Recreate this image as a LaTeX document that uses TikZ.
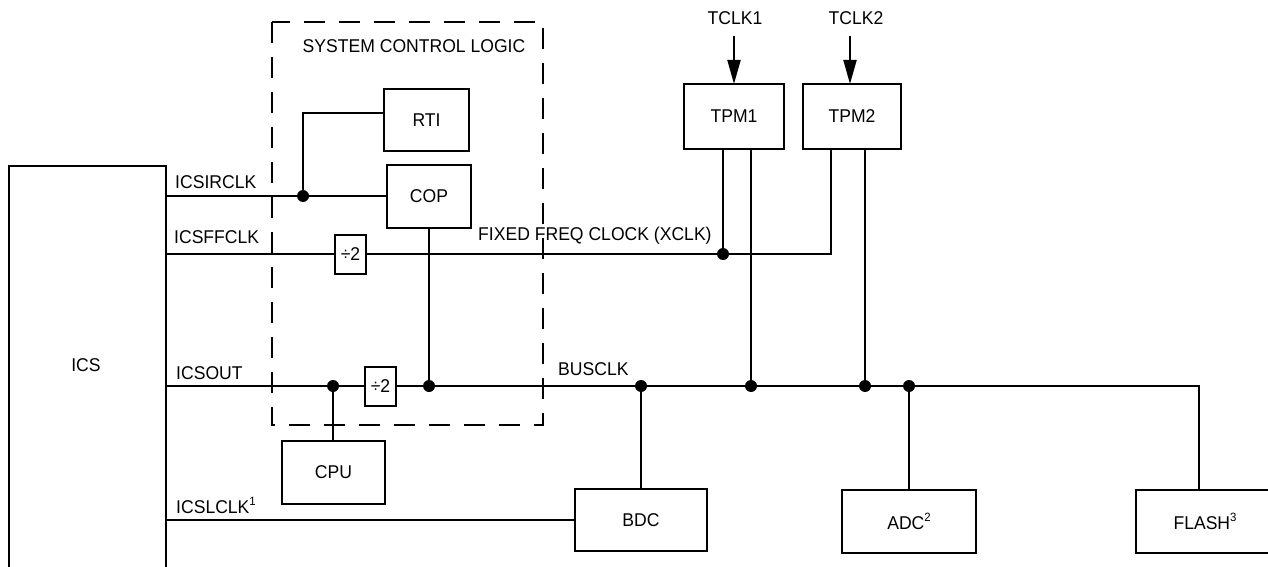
\documentclass[tikz,border=0pt]{standalone}
\usepackage{fontspec}
\setmainfont[FakeStretch=0.95]{Liberation Sans}
\usetikzlibrary{arrows.meta,calc}
\newcommand\myup[1]{\raisebox{0.42em}{\fontsize{12}{12}\selectfont #1}}
\begin{document}
\begin{tikzpicture}[x=1pt,y=-1pt,
  every node/.style={font=\fontsize{18.5}{22}\selectfont},
  box/.style={draw,line width=2pt,inner sep=0pt,outer sep=0pt},
  wire/.style={line width=2pt},
  lbl/.style={inner sep=0pt,anchor=base west},
  dot/.style={circle,fill=black,inner sep=0pt,minimum size=12pt},
  sclk/.style={line width=2pt,-{Triangle[length=24pt,width=13pt]}},
  dbox/.style={line width=2pt,dash pattern=on 21pt off 14pt}]
\useasboundingbox (0,0) rectangle (1268,567);
% ICS block (extends below the picture)
\node[box,minimum width=157pt,minimum height=440pt] (ics) at (87.5,386) {};
\node (icslbl) at (86,365) {ICS};
% system control logic
\draw[dbox] (272,22) rectangle (543,425);
\node[inner sep=0pt,anchor=base] (scl) at (414,53) {SYSTEM CONTROL LOGIC};
\node[box,minimum width=85pt,minimum height=62pt] (rti) at (426.5,120) {RTI};
\node[box,minimum width=84pt,minimum height=63pt] (cop) at (429,196) {COP};
\node[box,minimum width=31pt,minimum height=39pt] (div1) at (350.5,254) {÷2};
\node[box,minimum width=31pt,minimum height=39pt] (div2) at (380.5,386) {÷2};
\node[box,minimum width=103pt,minimum height=63pt] (cpu) at (333.5,472.5) {CPU};
% timers
\node[box,minimum width=100pt,minimum height=65pt] (tpm1) at (734,116.5) {TPM1};
\node[box,minimum width=98pt,minimum height=65pt] (tpm2) at (852,116.5) {TPM2};
\node[inner sep=0pt,anchor=base] (tclk1) at (735,25) {TCLK1};
\node[inner sep=0pt,anchor=base] (tclk2) at (856,25) {TCLK2};
\coordinate (t1s) at (734,36);
\coordinate (t2s) at (850,36);
\draw[sclk] (t1s) -- (t1s |- tpm1.north);
\draw[sclk] (t2s) -- (t2s |- tpm2.north);
% peripherals
\node[box,minimum width=132pt,minimum height=62pt] (bdc) at (641,520) {BDC};
\node[box,minimum width=134pt,minimum height=63pt] (adc) at (909,521.5) {ADC\myup{2}};
\node[box,minimum width=138pt,minimum height=63pt] (flash) at (1205,521.5) {FLASH\myup{3}};
% labels
\node[lbl] (lir) at (175,188) {ICSIRCLK};
\node[lbl] (lff) at (174,243) {ICSFFCLK};
\node[lbl] (lout) at (176,379) {ICSOUT};
\node[lbl] (llclk) at (176,513) {ICSLCLK\myup{1}};
\node[lbl] (lfix) at (478,240) {FIXED FREQ CLOCK (XCLK)};
\node[lbl] (lbus) at (558,375) {BUSCLK};
% coordinates
\coordinate (d1) at (303,196);
\coordinate (rtiin) at (384,113);
\coordinate (x1) at (723,254);
\coordinate (ff2) at (831,254);
\coordinate (b0) at (333,386);
\coordinate (b1) at (429,386);
\coordinate (b2) at (641,386);
\coordinate (b3) at (751,386);
\coordinate (b4) at (865,386);
\coordinate (b5) at (909,386);
\coordinate (busend) at (1199,386);
% ICSIRCLK
\draw[wire] (ics.east |- d1) -- (cop.west);
\draw[wire] (d1) |- (rtiin);
% ICSFFCLK
\draw[wire] (ics.east |- div1.west) -- (div1.west);
\draw[wire] (div1.east) -- (ff2) -- (tpm2.south -| ff2);
\draw[wire] (x1) -- (tpm1.south -| x1);
% ICSOUT / BUSCLK
\draw[wire] (ics.east |- div2.west) -- (div2.west);
\draw[wire] (div2.east) -- (busend) -- (flash.north -| busend);
\draw[wire] (b0) -- (cpu.north -| b0);
\draw[wire] (cop.south) -- (b1);
\draw[wire] (b2) -- (bdc.north);
\draw[wire] (tpm1.south -| b3) -- (b3);
\draw[wire] (tpm2.south -| b4) -- (b4);
\draw[wire] (b5) -- (adc.north);
% ICSLCLK
\draw[wire] (ics.east |- bdc.west) -- (bdc.west);
% dots
\foreach \p in {d1,x1,b0,b1,b2,b3,b4,b5} \node[dot] at (\p) {};
\end{tikzpicture}
\end{document}
